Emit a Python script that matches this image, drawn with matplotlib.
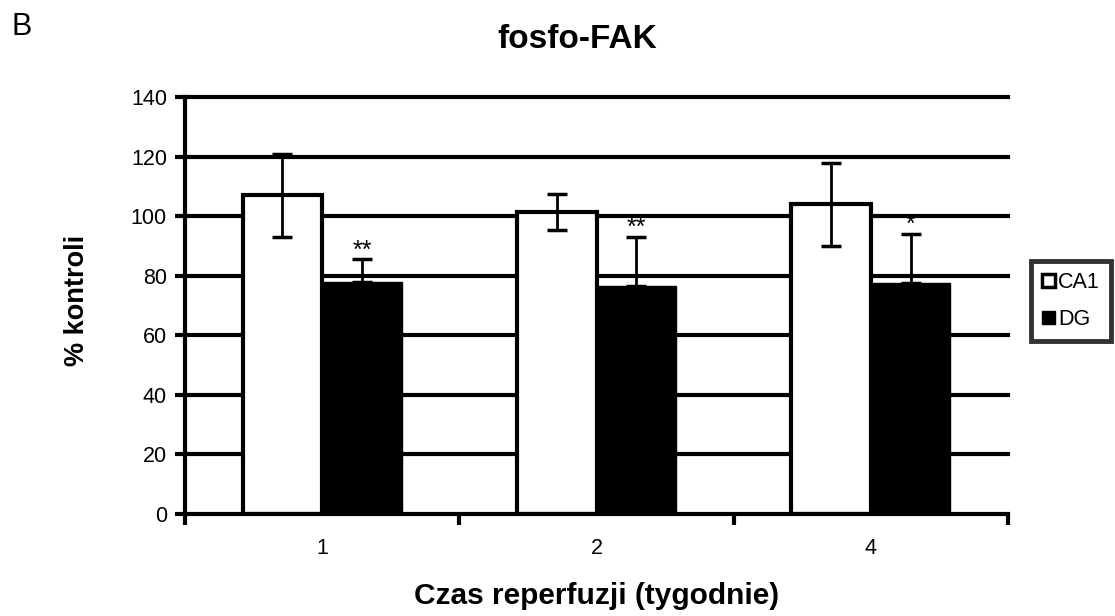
import matplotlib
matplotlib.use("Agg")
import matplotlib.pyplot as plt
import numpy as np
from matplotlib.patches import Patch

plt.rcParams['font.family'] = ['Liberation Sans', 'DejaVu Sans']

categories = ["1", "2", "4"]
ca1 = [107, 101.5, 104]
ca1_err = [14, 6, 14]
dg = [78, 76.5, 77.5]
dg_err = [7.5, 16.5, 16.5]
sig = ["**", "**", "*"]

W, H = 1115, 616
fig = plt.figure(figsize=(W / 100, H / 100), dpi=100)
ax = fig.add_axes([185 / W, 1 - 514 / H, (1008 - 185) / W, (514 - 97) / H])

x = np.arange(len(categories)) + 1.0
w = 0.29
lw = 3.0

ax.set_ylim(0, 140)
ax.set_xlim(0.5, 3.5)
for yv in range(20, 141, 20):
    ax.axhline(yv, color='black', lw=lw, zorder=1, clip_on=False)

ax.bar(x - w / 2, ca1, width=w, color='white', edgecolor='black', linewidth=lw, zorder=2)
ax.bar(x + w / 2, dg, width=w, color='black', edgecolor='black', linewidth=1, zorder=2)
ax.errorbar(x - w / 2, ca1, yerr=ca1_err, fmt='none', ecolor='black', elinewidth=2, capsize=7, capthick=2.5, zorder=3)
ax.errorbar(x + w / 2, dg, yerr=[[0] * 3, dg_err], fmt='none', ecolor='black', elinewidth=2, capsize=7, capthick=2.5, zorder=3)
for xi, v, e, s in zip(x + w / 2, dg, dg_err, sig):
    ax.text(xi, v + e + 3.0, s, ha='center', va='center', fontsize=18, zorder=6)

for sp in ['top', 'right']:
    ax.spines[sp].set_visible(False)
for sp in ['left', 'bottom']:
    ax.spines[sp].set_linewidth(lw)
    ax.spines[sp].set_zorder(5)

ax.set_yticks(range(0, 141, 20))
ax.tick_params(axis='y', direction='out', length=7, width=lw, labelsize=15.5, pad=6)
ax.set_xticks([0.5, 1.5, 2.5, 3.5])
ax.set_xticklabels([])
ax.tick_params(axis='x', which='major', direction='out', length=8, width=lw)
ax.set_xticks(x, minor=True)
ax.set_xticklabels(categories, minor=True)
ax.tick_params(axis='x', which='minor', length=0, labelsize=15.5, pad=17)

fig.text(77 / W, 1 - 300 / H, "% kontroli", fontsize=19.5, fontweight='bold',
         rotation=90, ha='center', va='center')
fig.text(597 / W, 1 - 596 / H, "Czas reperfuzji (tygodnie)", fontsize=21.5,
         fontweight='bold', ha='center', va='center')
fig.text(577 / W, 1 - 40 / H, "fosfo-FAK", fontsize=24, fontweight='bold',
         ha='center', va='center')
fig.text(12 / W, 1 - 27 / H, "B", fontsize=22, ha='left', va='center')

handles = [Patch(facecolor='white', edgecolor='black', linewidth=2.5, label='CA1'),
           Patch(facecolor='black', edgecolor='black', label='DG')]
leg = fig.legend(handles=handles, loc='center', bbox_to_anchor=(1071 / W, 1 - 301 / H), fontsize=15.5,
                 frameon=True, fancybox=False, handlelength=0.6, handleheight=0.6,
                 handletextpad=0.15, borderpad=0.5, labelspacing=0.75, borderaxespad=0)
leg.get_frame().set_edgecolor('black')
leg.get_frame().set_linewidth(3.5)

fig.savefig("out.png", dpi=100)
